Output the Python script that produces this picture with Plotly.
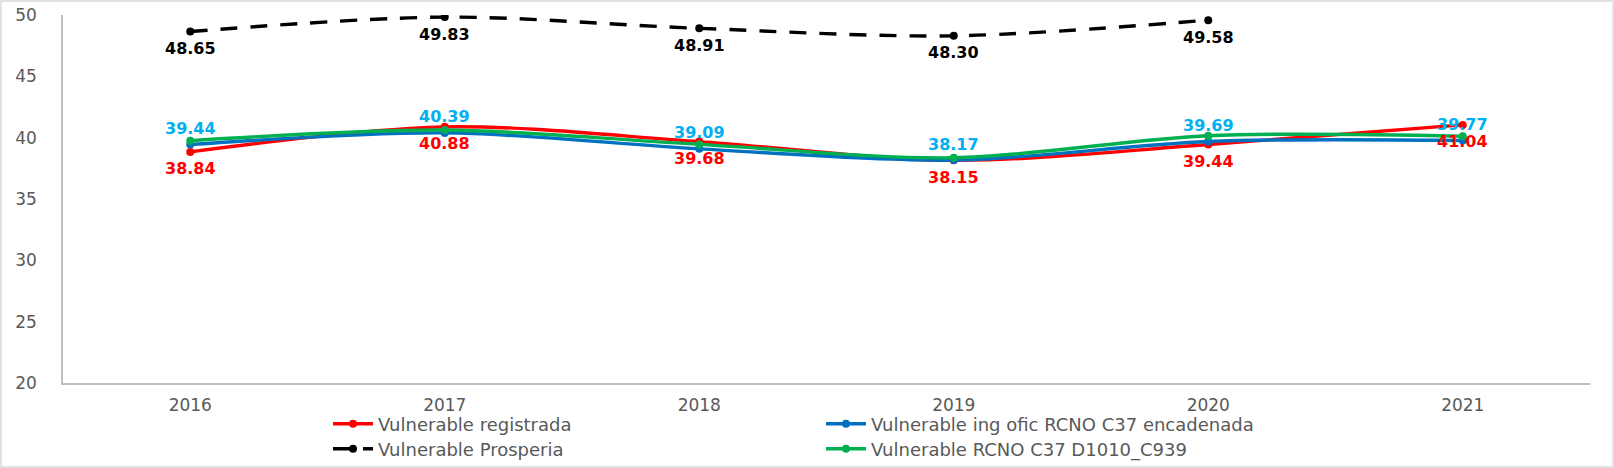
import plotly.graph_objects as go

years = ["2016", "2017", "2018", "2019", "2020", "2021"]
registrada = [38.84, 40.88, 39.68, 38.15, 39.44, 41.04]
ing_ofic = [39.44, 40.39, 39.09, 38.17, 39.69, 39.77]
prosperia = [48.65, 49.83, 48.91, 48.30, 49.58]
rcno_d1010 = [39.75, 40.62, 39.45, 38.36, 40.16, 40.12]

names = ["Vulnerable registrada", "Vulnerable ing ofic RCNO C37 encadenada",
         "Vulnerable Prosperia", "Vulnerable RCNO C37 D1010_C939"]

W, H = 1614, 468
ML, MR, MT, MB = 63, 24, 15, 85
PW, PH = W - ML - MR, H - MT - MB

fig = go.Figure()

def add(x, y, color, name, dash="solid", legend="legend"):
    fig.add_trace(go.Scatter(
        x=x, y=y, name=name, mode="lines+markers",
        line=dict(color=color, width=3.4, shape="spline", smoothing=0.9, dash=dash),
        marker=dict(color=color, size=8),
        legend=legend, hoverinfo="skip"))

add(years, registrada, "#FF0000", names[0], legend="legend")
add(years, ing_ofic, "#0070C0", names[1], legend="legend")
add(years[:len(prosperia)], prosperia, "#000000", names[2], dash="17px,13px", legend="legend2")
add(years, rcno_d1010, "#00B050", names[3], legend="legend2")

def labels(values, color, shift):
    for i, v in enumerate(values):
        fig.add_annotation(x=i, y=v, xref="x", yref="y", text=f"<b>{v:.2f}</b>",
                           showarrow=False, yshift=shift,
                           font=dict(family="DejaVu Sans", size=16, color=color))

labels(registrada, "#FF0000", -17)
labels(ing_ofic, "#00B0F0", 16)
labels(prosperia, "#000000", -17)

# chart border
fig.add_shape(type="rect", xref="paper", yref="paper",
              x0=(-ML + 1) / PW, x1=(PW + MR - 1) / PW,
              y0=(-MB + 1) / PH, y1=(PH + MT - 1) / PH,
              line=dict(color="#D9D9D9", width=1.5), layer="below")

leg_common = dict(orientation="h", xanchor="left", yanchor="middle",
                  font=dict(family="DejaVu Sans", size=18, color="#595959"),
                  entrywidth=438, entrywidthmode="pixels",
                  bgcolor="rgba(0,0,0,0)", itemwidth=40)

fig.update_layout(
    template="none",
    width=W, height=H,
    margin=dict(l=ML, r=MR, t=MT, b=MB, autoexpand=False),
    paper_bgcolor="white", plot_bgcolor="white",
    showlegend=True,
    legend=dict(**leg_common, x=(328 - ML) / PW, y=(PH + MT - 424) / PH),
    legend2=dict(**leg_common, x=(328 - ML) / PW, y=(PH + MT - 449) / PH),
    xaxis=dict(type="category", range=[-0.5, 5.5], showgrid=False, automargin=False,
               showline=True, linecolor="#BFBFBF", linewidth=1.5,
               ticks="outside", ticklen=6, tickcolor="rgba(0,0,0,0)",
               tickfont=dict(family="DejaVu Sans", size=17, color="#595959")),
    yaxis=dict(range=[20, 50], dtick=5, showgrid=False, zeroline=False, automargin=False,
               showline=True, linecolor="#BFBFBF", linewidth=1.5,
               ticks="outside", ticklen=21, tickcolor="rgba(0,0,0,0)",
               tickfont=dict(family="DejaVu Sans", size=17, color="#595959")),
)

fig.write_html("out.html", config={"displayModeBar": False},
               post_script="document.body.style.margin='0';")
